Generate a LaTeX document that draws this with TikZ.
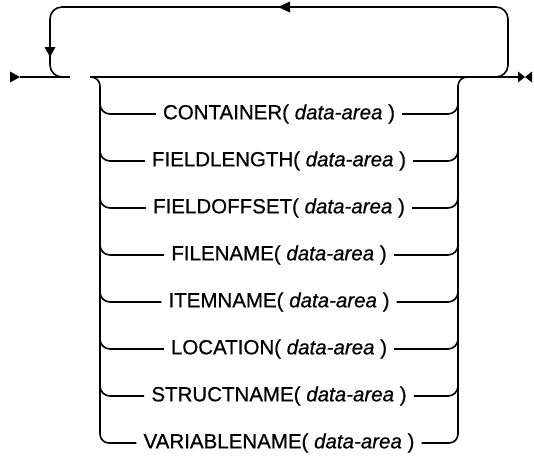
\documentclass[tikz,border=0pt]{standalone}
\usepackage{fontspec}
\setmainfont[FakeBold=0.6,AutoFakeBold=0.6]{Liberation Sans}
\begin{document}
\begin{tikzpicture}[x=1pt,y=-1pt,
  rail/.style={draw=black, line width=1.6pt, rounded corners=10pt},
  kw/.style={font=\fontsize{20.5}{23}\bfseries, inner xsep=7pt, inner ysep=0pt, anchor=center},
  tipmark/.style={fill=black, draw=none}]
\useasboundingbox (0,0) rectangle (534,459);
% coordinates of the main line
\coordinate (s) at (20,77);
\coordinate (g1) at (70,77);
\coordinate (g2) at (90,77);
\coordinate (e) at (518,77);
% rows
\foreach \n/\t [count=\k from 0] in {c/CONTAINER,fl/FIELDLENGTH,fo/FIELDOFFSET,fn/FILENAME,it/ITEMNAME,lo/LOCATION,st/STRUCTNAME,va/VARIABLENAME}{
  \node[kw] (\n) at (279,{114+47*\k}) {\t(\ \textit{data-area} )};
}
% main line
\draw[rail] (s) -- (g1);
\draw[rail] (g2) -- (e);
% start / end marks
\fill[tipmark] (10,71.5) -- (s) -- (10,82.5) -- cycle;
\fill[tipmark] (e) ++(0,-5.5) -- ++(7,5.5) -- ++(-7,5.5) -- cycle;
\fill[tipmark] (532,71.5) -- (525,77) -- (532,82.5) -- cycle;
% repeat loop
\draw[rail, rounded corners=12pt] (64,77) -- (50,77) -- (50,7) -- (508,7) -- (508,77) -- (494,77);
\fill[tipmark] (44.5,47) -- (50,57) -- (55.5,47) -- cycle;
\fill[tipmark] (290,1.5) -- (278,7) -- (290,12.5) -- cycle;
% left branch
\draw[rail, rounded corners=9pt] (g2) -- (100,77) -- (100,114+47*7) -- (va.west);
\foreach \n in {c,fl,fo,fn,it,lo,st}{
  \draw[rail] (100,0 |- \n.west) ++(0,-14) -- (100,0 |- \n.west) -- (\n.west);
  \draw[rail] (\n.east) -- (458,0 |- \n.east) -- ++(0,-14);
}
% right branch
\draw[rail, rounded corners=9pt] (470,77) -- (458,77) -- (458,114+47*7) -- (va.east);
\end{tikzpicture}
\end{document}
